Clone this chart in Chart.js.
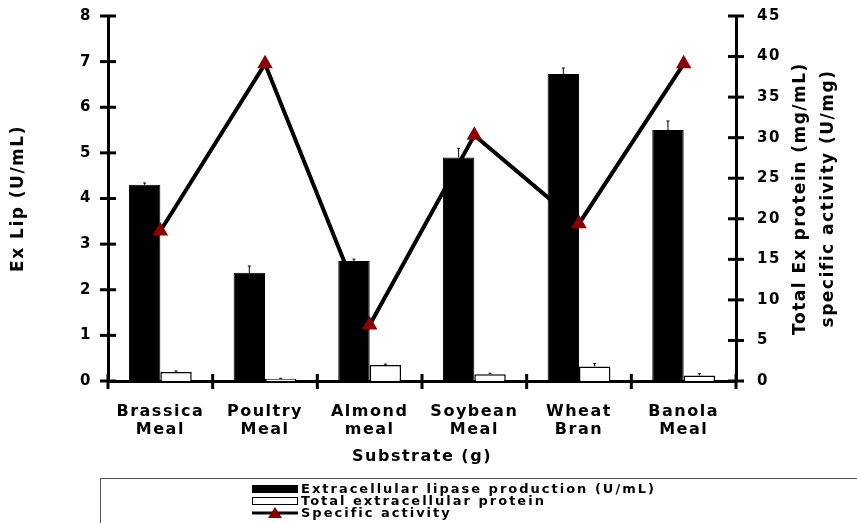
<!DOCTYPE html>
<html>
<head>
<meta charset="utf-8">
<script src="https://cdn.jsdelivr.net/npm/chart.js@4/dist/chart.umd.min.js"></script>
<style>
  body { margin: 0; background: #fff; }
  #wrap { position: relative; width: 857px; height: 523px; }
</style>
</head>
<body>
<div id="wrap"><canvas id="graphCanvas"></canvas></div>
<script>
var substrates = [["Brassica", "Meal"], ["Poultry", "Meal"], ["Almond", "meal"], ["Soybean", "Meal"], ["Wheat", "Bran"], ["Banola", "Meal"]];
var lipase = [4.3, 2.37, 2.63, 4.9, 6.73, 5.5];
var lipaseErr = [0.04, 0.15, 0.04, 0.2, 0.13, 0.2];
var protein = [0.2, 0.05, 0.35, 0.15, 0.32, 0.12];
var proteinErr = [0.02, 0.01, 0.02, 0.02, 0.06, 0.04];
var specific = [18.5, 39.1, 6.9, 30.3, 19.4, 39.1];
var leftTicks = [0, 1, 2, 3, 4, 5, 6, 7, 8];
var rightTicks = [0, 5, 10, 15, 20, 25, 30, 35, 40, 45];

var FONT = "'DejaVu Sans', Arial, sans-serif";
var darkRed = '#8B0000';
var SPACE = '1.5px';

// the original text is set wide, so space the letters out a little
var spacing = {
    id: 'spacing',
    beforeUpdate: function (chart) { chart.ctx.letterSpacing = SPACE; },
    beforeDraw: function (chart) { chart.ctx.letterSpacing = SPACE; }
};

// error bars on top of each bar
var errorBars = {
    id: 'errorBars',
    afterDatasetDraw: function (chart, args) {
        var errs = args.index === 0 ? lipaseErr : (args.index === 1 ? proteinErr : null);
        if (!errs) return;
        var ctx = chart.ctx;
        var y = chart.scales.y;
        ctx.save();
        ctx.strokeStyle = '#000';
        ctx.lineWidth = 1;
        args.meta.data.forEach(function (bar, i) {
            var v = chart.data.datasets[args.index].data[i];
            var top = y.getPixelForValue(v + errs[i]);
            ctx.beginPath();
            ctx.moveTo(bar.x, bar.y);
            ctx.lineTo(bar.x, top);
            ctx.moveTo(bar.x - 1.5, top);
            ctx.lineTo(bar.x + 1.5, top);
            ctx.stroke();
        });
        ctx.restore();
    }
};

// tick marks that cross the axis lines, right title and legend
var extras = {
    id: 'extras',
    afterDraw: function (chart) {
        var ctx = chart.ctx;
        var a = chart.chartArea;
        var y = chart.scales.y, y1 = chart.scales.y1, x = chart.scales.x;
        ctx.save();
        ctx.strokeStyle = '#000';
        ctx.lineWidth = 3;
        leftTicks.forEach(function (v) {
            var p = y.getPixelForValue(v);
            ctx.beginPath(); ctx.moveTo(a.left - 8, p); ctx.lineTo(a.left + 8, p); ctx.stroke();
        });
        rightTicks.forEach(function (v) {
            var p = y1.getPixelForValue(v);
            ctx.beginPath(); ctx.moveTo(a.right - 8, p); ctx.lineTo(a.right + 8, p); ctx.stroke();
        });
        for (var i = 0; i <= substrates.length; i++) {
            var px = x.getPixelForValue(i - 0.5);
            ctx.beginPath(); ctx.moveTo(px, a.bottom - 7); ctx.lineTo(px, a.bottom + 8); ctx.stroke();
        }

        // right axis title, two lines, reading upward
        ctx.fillStyle = '#000';
        ctx.font = 'bold 17px ' + FONT;
        ctx.letterSpacing = SPACE;
        ctx.textAlign = 'center';
        ctx.textBaseline = 'middle';
        var cy = (a.top + a.bottom) / 2;
        ctx.save();
        ctx.translate(801, cy);
        ctx.rotate(-Math.PI / 2);
        ctx.fillText('Total Ex protein (mg/mL)', 0, 0);
        ctx.restore();
        ctx.save();
        ctx.translate(829, cy);
        ctx.rotate(-Math.PI / 2);
        ctx.fillText('specific activity (U/mg)', 0, 0);
        ctx.restore();

        // legend box
        ctx.lineWidth = 1;
        ctx.strokeStyle = '#555';
        ctx.strokeRect(100.5, 478.5, 800, 60);
        ctx.font = 'bold 13px ' + FONT;
        ctx.letterSpacing = '2px';
        ctx.textAlign = 'left';
        var sx = 252, sw = 46, tx = 301;
        var rows = [489, 501, 513];
        ctx.fillStyle = '#000';
        ctx.fillRect(sx, rows[0] - 4, sw, 8);
        ctx.strokeStyle = '#000';
        ctx.strokeRect(sx + 0.5, rows[1] - 3.5, sw - 1, 7);
        ctx.lineWidth = 3;
        ctx.beginPath(); ctx.moveTo(sx, rows[2]); ctx.lineTo(sx + sw, rows[2]); ctx.stroke();
        ctx.fillStyle = darkRed;
        ctx.beginPath();
        ctx.moveTo(sx + sw / 2, rows[2] - 6);
        ctx.lineTo(sx + sw / 2 + 7, rows[2] + 5);
        ctx.lineTo(sx + sw / 2 - 7, rows[2] + 5);
        ctx.closePath(); ctx.fill();
        ctx.fillStyle = '#000';
        chart.data.datasets.forEach(function (d, i) {
            ctx.fillText(d.label, tx, rows[i] + 1);
        });
        ctx.restore();
    }
};

var xFont = { family: FONT, size: 16, weight: 'bold', lineHeight: 1.1 };
var yFont = { family: FONT, size: 15, weight: 'bold' };

var chartdata = {
    labels: substrates,
    datasets: [
        {
            label: 'Extracellular lipase production (U/mL)',
            type: 'bar',
            data: lipase,
            backgroundColor: '#000',
            borderColor: '#000',
            borderWidth: 1,
            yAxisID: 'y',
            order: 2
        },
        {
            label: 'Total extracellular protein',
            type: 'bar',
            data: protein,
            backgroundColor: '#fff',
            borderColor: '#000',
            borderWidth: 1.5,
            yAxisID: 'y',
            order: 2
        },
        {
            label: 'Specific activity',
            type: 'line',
            data: specific,
            borderColor: '#000',
            borderWidth: 4,
            tension: 0,
            pointStyle: 'triangle',
            pointRadius: 9,
            pointBackgroundColor: darkRed,
            pointBorderColor: darkRed,
            pointBorderWidth: 0,
            yAxisID: 'y1',
            order: 0
        }
    ]
};

var barGraph = new Chart(document.getElementById('graphCanvas'), {
    type: 'bar',
    data: chartdata,
    options: {
        responsive: true,
        maintainAspectRatio: false,
        animation: false,
        datasets: { bar: { categoryPercentage: 0.6, barPercentage: 1 } },
        layout: { padding: { top: 16, left: 0, right: 0, bottom: 50 } },
        plugins: { legend: { display: false }, tooltip: { enabled: false } },
        scales: {
            x: {
                offset: true,
                grid: { display: false, offset: true, tickLength: 8 },
                border: { width: 3, color: '#000' },
                ticks: { font: xFont, color: '#000', padding: 14, maxRotation: 0 },
                title: { display: true, text: 'Substrate (g)', font: xFont, color: '#000', padding: { top: 4, bottom: 7 } },
                afterFit: function (s) { s.height = 92; }
            },
            y: {
                position: 'left',
                min: 0, max: 8,
                grid: { display: false, tickLength: 13 },
                border: { width: 3, color: '#000' },
                ticks: { stepSize: 1, font: yFont, color: '#000', padding: 3 },
                title: { display: true, text: 'Ex Lip (U/mL)', font: { family: FONT, size: 17, weight: 'bold' }, color: '#000', padding: { top: 8 } },
                afterFit: function (s) { s.width = 108; }
            },
            y1: {
                position: 'right',
                min: 0, max: 45,
                grid: { display: false, tickLength: 18 },
                border: { width: 3, color: '#000' },
                ticks: { stepSize: 5, font: yFont, color: '#000', padding: 3 },
                afterFit: function (s) { s.width = 121; }
            }
        }
    },
    plugins: [spacing, errorBars, extras]
});
</script>
</body>
</html>
